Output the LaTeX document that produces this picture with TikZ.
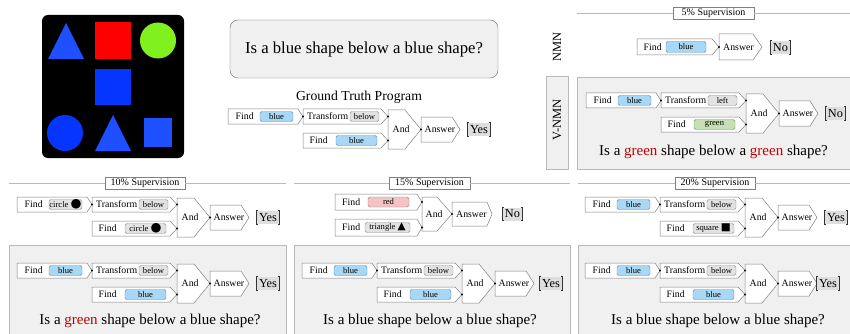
\documentclass[tikz,border=0pt]{standalone}
\usepackage{fontspec}
\setmainfont{Liberation Serif}
\newfontfamily\symf{DejaVu Sans}
\definecolor{modgray}{RGB}{128,128,128}
\definecolor{panelbg}{RGB}{240,240,240}
\definecolor{panelln}{RGB}{185,185,185}
\definecolor{argblue}{RGB}{168,216,245}
\definecolor{argblueln}{RGB}{95,140,175}
\definecolor{arggray}{RGB}{226,226,226}
\definecolor{arggrayln}{RGB}{140,140,140}
\definecolor{arggreen}{RGB}{197,224,180}
\definecolor{arggreenln}{RGB}{110,140,100}
\definecolor{argred}{RGB}{244,196,196}
\definecolor{argredln}{RGB}{170,120,120}
\definecolor{qred}{RGB}{192,0,0}
\definecolor{ansfill}{RGB}{222,222,222}
\definecolor{tblue}{RGB}{30,80,255}
\definecolor{sblue}{RGB}{5,53,255}
\definecolor{sred}{RGB}{255,0,0}
\definecolor{sgreen}{RGB}{128,240,30}
\newcommand\modshape[6]{%
  \draw[modb] (#2,#3) -- ({#2+#4},#3) -- ({#2+#4+#6},{#3+#5/2}) -- ({#2+#4},{#3+#5}) -- (#2,{#3+#5}) -- cycle;
  \coordinate (#1-in) at (#2,{#3+#5/2});
  \coordinate (#1-out) at ({#2+#4+#6},{#3+#5/2});
}
\newcommand\brackets[1]{%
  \draw[brk] ([xshift=2pt]#1.north west) -- (#1.north west) -- (#1.south west) -- ([xshift=2pt]#1.south west);
  \draw[brk] ([xshift=-2pt]#1.north east) -- (#1.north east) -- (#1.south east) -- ([xshift=-2pt]#1.south east);
}
\newcommand\bigdot{{\symf\fontsize{12.5}{10}\selectfont ●}}
\def\resx{251}
\newcommand\progT[8]{%
  \modshape{#1f1}{0}{0}{70}{15}{5}
  \node[modtxt,anchor=west] (#1f1t) at (7.5,7.5) {Find};
  \node[#2, minimum width=33pt] (#1f1a) at (48.5,7.5) {#3};
  \modshape{#1tr}{75}{0}{78}{15}{7}
  \node[modtxt,anchor=west] (#1trt) at (79,7.5) {Transform};
  \node[#4, minimum width=29pt] (#1tra) at (136.5,7.5) {#5};
  \modshape{#1f2}{75}{24}{78}{15}{7}
  \node[modtxt,anchor=west] (#1f2t) at (81.5,31.5) {Find};
  \node[#6, minimum width=41pt] (#1f2a) at (128.5,31.5) {#7};
  \modshape{#1and}{160}{1}{17}{39}{16}
  \node[modtxt,anchor=west] (#1andt) at (164.5,20.5) {And};
  \modshape{#1ans}{193}{8}{31}{25}{8}
  \node[modtxt,anchor=west] (#1anst) at (196.5,20.5) {Answer};
  \node[ansbox] (#1res) at (\resx,20.5) {#8};
  \brackets{#1res}
  \fill[dotc] (#1f1-out) circle (1.1pt);
  \fill[dotc] (#1tr-out) circle (1.1pt);
  \fill[dotc] (#1f2-out) circle (1.1pt);
  \fill[dotc] (#1and-out) circle (1.1pt);
}
\begin{document}
\begin{tikzpicture}[x=1pt,y=-1pt,
  modb/.style={draw=modgray, fill=white, line width=0.5pt},
  modtxt/.style={inner sep=0pt, font=\fontsize{9.8}{11}\selectfont},
  abase/.style={rounded corners=1.8pt, minimum height=10pt, inner sep=0pt, line width=0.45pt, font=\fontsize{8.6}{9}\selectfont},
  ablue/.style={abase, fill=argblue, draw=argblueln},
  agray/.style={abase, fill=arggray, draw=arggrayln},
  agreen/.style={abase, fill=arggreen, draw=arggreenln},
  ared/.style={abase, fill=argred, draw=argredln},
  ansbox/.style={fill=ansfill, inner xsep=2.5pt, inner ysep=0pt, minimum height=13pt, font=\fontsize{12.3}{13}\selectfont},
  brk/.style={line width=0.7pt, draw=black!80},
  dotc/.style={fill=black},
  panel/.style={fill=panelbg, draw=panelln, line width=0.5pt},
  hline/.style={draw=panelln, line width=0.6pt},
  hdr/.style={draw=modgray, fill=white, line width=0.5pt, inner sep=0pt, minimum height=12pt, font=\fontsize{10}{11}\selectfont},
  qtxt/.style={anchor=base, inner sep=0pt, font=\fontsize{15}{17}\selectfont},
  sidelbl/.style={rotate=90, inner sep=0pt, font=\fontsize{12.5}{14}\selectfont},
]
\useasboundingbox (0,0) rectangle (850,334);
% ---- scene image ----
\fill[black, rounded corners=6pt] (42,15) rectangle (184,158);
\fill[tblue] (48,59) -- (66,23) -- (84,59) -- cycle;
\fill[sred] (95,22) rectangle (131,59);
\fill[sgreen] (158,40.5) circle (18pt);
\fill[sblue] (95,69) rectangle (131,105);
\fill[sblue] (65,133) circle (18pt);
\fill[tblue] (95,151) -- (113,115) -- (131,151) -- cycle;
\fill[tblue] (144,118) rectangle (172,147);
% ---- question ----
\node[draw=black!60, fill=black!6, rounded corners=8pt, minimum width=268pt, minimum height=58pt, inner sep=0pt, font=\fontsize{16.7}{19}\selectfont] (qb) at (364,49) {Is a blue shape below a blue shape?};
\node[anchor=base, inner sep=0pt, font=\fontsize{13.7}{15}\selectfont] (gtt) at (359,101) {Ground Truth Program};
\begin{scope}[shift={(228,109)}]
  \progT{g}{ablue}{blue}{agray}{below}{ablue}{blue}{Yes}
\end{scope}
% ---- 5% supervision ----
\node[hdr, minimum width=81pt] (h5) at (713.5,13) {5\% Supervision};
\draw[hline] (577,13) -- (h5.west);
\draw[hline] (h5.east) -- (850,13);
\node[sidelbl] (nmnl) at (557,47) {NMN};
\begin{scope}[shift={(637,39)}]
  \modshape{nf1}{0}{0}{75}{16}{7}
  \node[modtxt,anchor=west] (nf1t) at (6.5,8) {Find};
  \node[ablue, minimum width=40pt, minimum height=11pt] (nf1a) at (49,8) {blue};
  \modshape{nans}{82}{-5}{34}{26}{9}
  \node[modtxt,anchor=west] (nanst) at (86,8) {Answer};
  \node[ansbox] (nres) at (143.5,8.5) {No};
  \brackets{nres}
  \fill[dotc] (nf1-out) circle (1.1pt);
\end{scope}
\draw[panel] (546,76) rectangle (568,169);
\node[sidelbl] (vnmnl) at (557,120) {V-NMN};
\draw[panel] (577,77) rectangle (851,169);
\begin{scope}[shift={(586,93)}]
  \def\resx{249.5}
  \progT{v}{ablue}{blue}{agray}{left}{agreen}{green}{No}
\end{scope}
\node[qtxt] (vq) at (713.5,155) {Is a \textcolor{qred}{green} shape below a \textcolor{qred}{green} shape?};
% ---- 10% supervision ----
\node[hdr, minimum width=80pt] (h10) at (145,183) {10\% Supervision};
\draw[hline] (9,183) -- (h10.west);
\draw[hline] (h10.east) -- (286,183);
\begin{scope}[shift={(17,197)}]
  \progT{a}{agray}{circle \bigdot}{agray}{below}{agray}{circle \bigdot}{Yes}
\end{scope}
\draw[panel] (9,245) rectangle (286,336);
\begin{scope}[shift={(17,263)}]
  \progT{b}{ablue}{blue}{agray}{below}{ablue}{blue}{Yes}
\end{scope}
\node[qtxt] (q1) at (150,324) {Is a \textcolor{qred}{green} shape below a blue shape?};
% ---- 15% supervision ----
\node[hdr, minimum width=81pt] (h15) at (429.5,183) {15\% Supervision};
\draw[hline] (294,183) -- (h15.west);
\draw[hline] (h15.east) -- (570,183);
\begin{scope}[shift={(335,194)}]
  \modshape{cf1}{0}{0}{82}{16}{5}
  \node[modtxt,anchor=west] (cf1t) at (7,8) {Find};
  \node[ared, minimum width=41pt] (cf1a) at (53.5,8) {red};
  \modshape{cf2}{0}{25}{82}{17}{5}
  \node[modtxt,anchor=west] (cf2t) at (7,33.5) {Find};
  \node[agray, minimum width=45pt] (cf2a) at (52.5,33.5) {triangle {\symf\fontsize{10.5}{9}\selectfont ▲}};
  \modshape{cand}{87}{3}{15}{34}{15}
  \node[modtxt,anchor=west] (candt) at (90.5,20) {And};
  \modshape{cans}{117}{8}{35}{24}{5}
  \node[modtxt,anchor=west] (canst) at (121,20) {Answer};
  \node[ansbox] (cres) at (177.5,20) {No};
  \brackets{cres}
  \fill[dotc] (cf1-out) circle (1.1pt);
  \fill[dotc] (cf2-out) circle (1.1pt);
  \fill[dotc] (cand-out) circle (1.1pt);
\end{scope}
\draw[panel] (294,245) rectangle (570,336);
\begin{scope}[shift={(302,263)}]
  \def\resx{249}
  \progT{d}{ablue}{blue}{agray}{below}{ablue}{blue}{Yes}
\end{scope}
\node[qtxt] (q2) at (430,324) {Is a blue shape below a blue shape?};
% ---- 20% supervision ----
\node[hdr, minimum width=80pt] (h20) at (715,183) {20\% Supervision};
\draw[hline] (578,183) -- (h20.west);
\draw[hline] (h20.east) -- (850,183);
\begin{scope}[shift={(585,197)}]
  \progT{e}{ablue}{blue}{agray}{below}{agray}{square {\symf\fontsize{10.5}{9}\selectfont ■}}{Yes}
\end{scope}
\draw[panel] (578,245) rectangle (851,336);
\begin{scope}[shift={(585,263)}]
  \def\resx{243}
  \progT{f}{ablue}{blue}{agray}{below}{ablue}{blue}{Yes}
\end{scope}
\node[qtxt] (q3) at (718,324) {Is a blue shape below a blue shape?};
\end{tikzpicture}
\end{document}
